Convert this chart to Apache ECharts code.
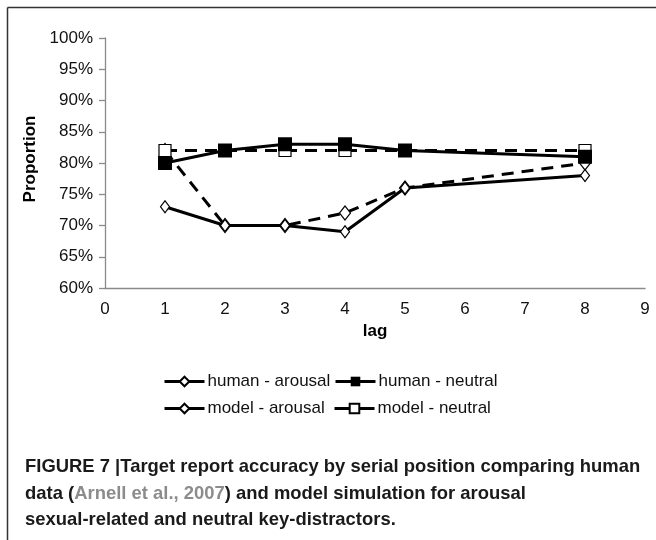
<!DOCTYPE html>
<html>
<head>
<meta charset="utf-8">
<script src="https://cdn.jsdelivr.net/npm/echarts@6/dist/echarts.min.js"></script>
<style>html,body{margin:0;padding:0;background:#fff}#c{width:656px;height:540px}</style>
</head>
<body>
<div id="c"></div>
<script>
var lags = [1, 2, 3, 4, 5, 8];
var humanArousal = [73, 70, 70, 69, 76, 78];
var humanNeutral = [80, 82, 83, 83, 82, 81];
var modelArousal = [82, 70, 70, 72, 76, 80];
var modelNeutral = [82, 82, 82, 82, 82, 82];
var seriesNames = ['human - arousal', 'human - neutral', 'model - arousal', 'model - neutral'];

function pairs(vals) { return lags.map(function (x, i) { return [x, vals[i]]; }); }

var chart = echarts.init(document.getElementById('c'), null, {renderer: 'canvas'});
var FONT = '"Liberation Sans", Arial, sans-serif';
var CAPFONT = 'bold 19px "Liberation Sans", Arial, sans-serif';
function legendAt(name, left, top) {
  return {
    data: [name], left: left, top: top, orient: 'horizontal',
    itemWidth: 40, itemHeight: 12, itemGap: 4, padding: 0, selectedMode: false,
    lineStyle: {type: 'solid', width: 3},
    textStyle: {fontFamily: FONT, fontSize: 17, color: '#111', padding: [0, 0, 0, -2]}
  };
}
var option = {
  animation: false,
  backgroundColor: '#fff',
  grid: {left: 105, right: 11, top: 38, bottom: 252, containLabel: false},
  xAxis: {
    type: 'value', min: 0, max: 9, interval: 1,
    name: 'lag', nameLocation: 'middle', nameGap: 35,
    nameTextStyle: {fontFamily: FONT, fontSize: 17, fontWeight: 'bold', color: '#000'},
    axisLine: {show: true, lineStyle: {color: '#8a8a8a', width: 1.3}},
    axisTick: {show: false},
    splitLine: {show: false},
    axisLabel: {fontFamily: FONT, fontSize: 17, color: '#111', margin: 13}
  },
  yAxis: {
    type: 'value', min: 60, max: 100, interval: 5,
    name: 'Proportion', nameLocation: 'middle', nameGap: 58,
    nameTextStyle: {fontFamily: FONT, fontSize: 17, fontWeight: 'bold', color: '#000', padding: [0, 0, 0, 8]},
    axisLine: {show: true, lineStyle: {color: '#8a8a8a', width: 1.3}},
    axisTick: {show: true, length: 6, lineStyle: {color: '#8a8a8a', width: 1.3}},
    splitLine: {show: false},
    axisLabel: {fontFamily: FONT, fontSize: 17, color: '#111', margin: 12, formatter: '{value}%'}
  },
  legend: [
    legendAt(seriesNames[0], 163, 373),
    legendAt(seriesNames[1], 334, 373),
    legendAt(seriesNames[2], 163, 400),
    legendAt(seriesNames[3], 333, 400)
  ],
  series: [
    {
      name: seriesNames[0], type: 'line', data: pairs(humanArousal),
      symbol: 'diamond', symbolSize: [9, 12], z: 3,
      itemStyle: {color: '#fff', borderColor: '#000', borderWidth: 1.2},
      lineStyle: {color: '#000', width: 3, type: 'solid'}
    },
    {
      name: seriesNames[1], type: 'line', data: pairs(humanNeutral),
      symbol: 'rect', symbolSize: 14, z: 4,
      itemStyle: {color: '#000', borderColor: '#000', borderWidth: 0},
      lineStyle: {color: '#000', width: 3, type: 'solid'}
    },
    {
      name: seriesNames[2], type: 'line', data: pairs(modelArousal),
      symbol: 'diamond', symbolSize: [11, 14], z: 2,
      itemStyle: {color: '#fff', borderColor: '#000', borderWidth: 1.2},
      lineStyle: {color: '#000', width: 3, type: [12, 8]}
    },
    {
      name: seriesNames[3], type: 'line', data: pairs(modelNeutral),
      symbol: 'rect', symbolSize: 12, z: 2,
      itemStyle: {color: '#fff', borderColor: '#000', borderWidth: 1.2},
      lineStyle: {color: '#000', width: 3, type: [12, 8]}
    }
  ],
  graphic: [
    {type: 'line', shape: {x1: 7.5, y1: 7.5, x2: 656, y2: 7.5}, style: {stroke: '#333', lineWidth: 1.5}},
    {type: 'line', shape: {x1: 7.5, y1: 7.5, x2: 7.5, y2: 540}, style: {stroke: '#333', lineWidth: 1.5}},
    {
      type: 'text', x: 25, y: 454, scaleX: 0.97,
      style: {
        text: 'FIGURE 7 |Target report accuracy by serial position comparing human\n{n|data (}{g|Arnell et al., 2007}{n|) and model simulation for arousal}\nsexual-related and neutral key-distractors.',
        font: CAPFONT,
        fill: '#1a1a1a', lineHeight: 26.5,
        rich: {
          n: {font: CAPFONT, fill: '#1a1a1a', lineHeight: 26.5},
          g: {font: CAPFONT, fill: '#8c8c8c', lineHeight: 26.5}
        }
      }
    }
  ]
};
chart.setOption(option);
</script>
</body>
</html>
